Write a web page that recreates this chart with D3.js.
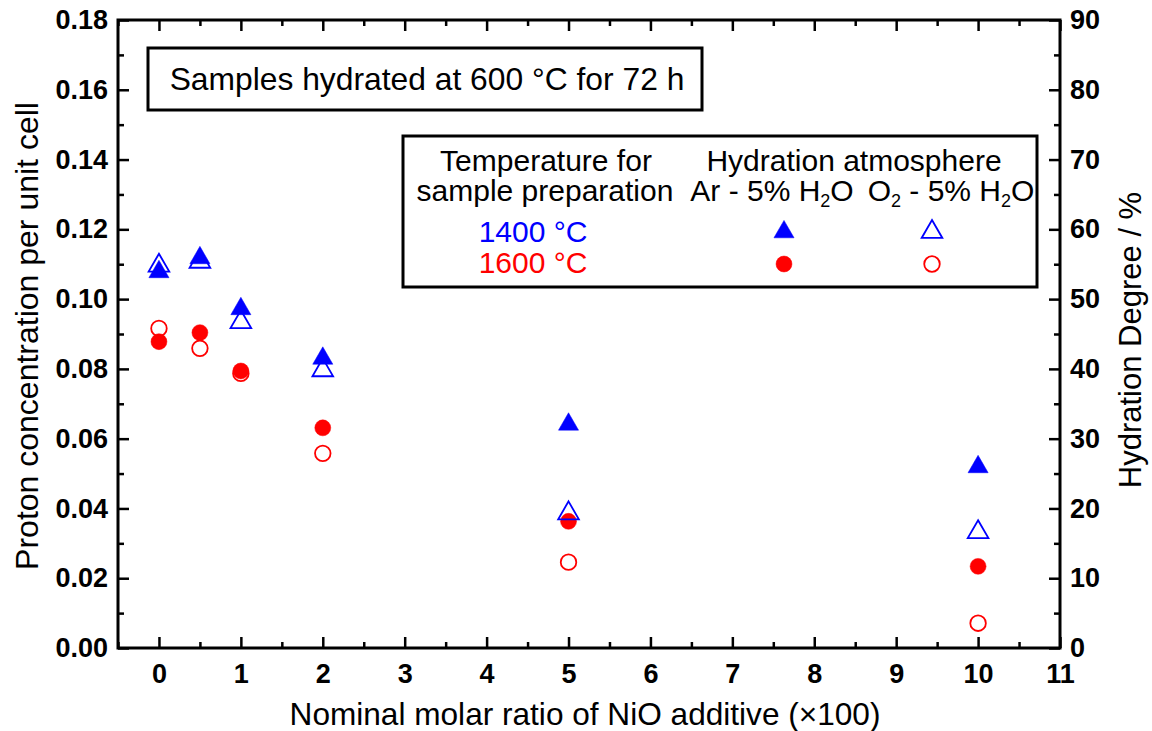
<!DOCTYPE html>
<html><head><meta charset="utf-8">
<script src="https://cdn.jsdelivr.net/npm/d3@7"></script>
<style>
body{margin:0;background:#fff;}
svg{display:block;font-family:"Liberation Sans",Arial,sans-serif;}
</style></head>
<body><svg id="c" width="1152" height="731"></svg>
<script>
// ---- data ----
const nioRatio = [0, 0.5, 1, 2, 5, 10];
const ar1400 = [0.1078, 0.1118, 0.0972, 0.0830, 0.0641, 0.0519];
const o21400 = [0.1096, 0.1107, 0.0934, 0.0796, 0.0386, 0.0332];
const ar1600 = [0.0878, 0.0904, 0.0794, 0.0631, 0.0363, 0.0234];
const o21600 = [0.0916, 0.0859, 0.0787, 0.0558, 0.0246, 0.0071];
const xTicks = [0,1,2,3,4,5,6,7,8,9,10,11];
const yTicks = [0,0.02,0.04,0.06,0.08,0.10,0.12,0.14,0.16,0.18];
const y2Ticks = [0,10,20,30,40,50,60,70,80,90];

const svg = d3.select("#c");
const L=118, R=1060, T=20, B=648;
const x = d3.scaleLinear().domain([-0.5, 11]).range([L, R]);
const y = d3.scaleLinear().domain([0, 0.18]).range([B, T]);
const y2 = d3.scaleLinear().domain([0, 90]).range([B, T]);

const blue="#0000ff", red="#ff0000";
const MAJ=11, MIN=6;

function styleAxis(g){
  g.select(".domain").remove();
  g.selectAll(".tick line").attr("stroke","#000").attr("stroke-width",2.5);
  g.selectAll(".tick text").attr("fill","#000").attr("font-weight","bold").attr("font-size",27);
}
const xMinor = d3.range(-0.5, 11.01, 0.5).filter(v=>Math.abs(v-Math.round(v))>1e-6);
const yMinor = d3.range(0.01, 0.18, 0.02);
const y2Minor = d3.range(5, 90, 10);
function minorStyle(g){g.select(".domain").remove();g.selectAll("line").attr("stroke","#000").attr("stroke-width",2.5);}

// bottom
const gb = svg.append("g").attr("transform",`translate(0,${B})`)
  .call(d3.axisBottom(x).tickValues(xTicks).tickSizeInner(-MAJ).tickSizeOuter(0).tickPadding(16).tickFormat(d3.format("d")));
styleAxis(gb);
gb.selectAll(".tick text").attr("dy","0.71em");
svg.append("g").attr("transform",`translate(0,${B})`)
  .call(d3.axisBottom(x).tickValues(xMinor).tickSize(-MIN).tickFormat("")).call(minorStyle);
// top
svg.append("g").attr("transform",`translate(0,${T})`)
  .call(d3.axisTop(x).tickValues(xTicks).tickSize(-MAJ).tickFormat("")).call(minorStyle);
svg.append("g").attr("transform",`translate(0,${T})`)
  .call(d3.axisTop(x).tickValues(xMinor).tickSize(-MIN).tickFormat("")).call(minorStyle);
// left
const gl = svg.append("g").attr("transform",`translate(${L},0)`)
  .call(d3.axisLeft(y).tickValues(yTicks).tickSizeInner(-MAJ).tickSizeOuter(0).tickPadding(10).tickFormat(d3.format(".2f")));
styleAxis(gl);
svg.append("g").attr("transform",`translate(${L},0)`)
  .call(d3.axisLeft(y).tickValues(yMinor).tickSize(-MIN).tickFormat("")).call(minorStyle);
// right
const gr = svg.append("g").attr("transform",`translate(${R},0)`)
  .call(d3.axisRight(y2).tickValues(y2Ticks).tickSizeInner(-MAJ).tickSizeOuter(0).tickPadding(10).tickFormat(d3.format("d")));
styleAxis(gr);
svg.append("g").attr("transform",`translate(${R},0)`)
  .call(d3.axisRight(y2).tickValues(y2Minor).tickSize(-MIN).tickFormat("")).call(minorStyle);

// frame
svg.append("rect").attr("x",L).attr("y",T).attr("width",R-L).attr("height",B-T)
  .attr("fill","none").attr("stroke","#000").attr("stroke-width",3);

// axis titles
svg.append("text").attr("x",(L+R)/2-4).attr("y",725).attr("text-anchor","middle")
  .attr("font-size",31.6).text("Nominal molar ratio of NiO additive (×100)");
svg.append("text").attr("transform",`translate(38,${(T+B)/2+2}) rotate(-90)`).attr("text-anchor","middle")
  .attr("font-size",32).text("Proton concentration per unit cell");
svg.append("text").attr("transform",`translate(1141,340) rotate(-90)`).attr("text-anchor","middle")
  .attr("font-size",31).text("Hydration Degree / %");

// markers
const tri = d3.symbol().type(d3.symbolTriangle).size(175);
const cir = d3.symbol().type(d3.symbolCircle).size(200);
const cirOpen = d3.symbol().type(d3.symbolCircle).size(190);
const triOpen = d3.symbol().type(d3.symbolTriangle).size(185);

function plot(vals, gen, filled, color){
  svg.append("g").selectAll("path").data(vals).join("path")
    .attr("transform",(d,i)=>`translate(${x(nioRatio[i])},${y(d)})`)
    .attr("d",gen())
    .attr("fill", filled?color:"none")
    .attr("stroke", color)
    .attr("stroke-width", filled?0.5:1.8);
}
plot(ar1600, cir, true, red);
plot(o21600, cirOpen, false, red);
plot(ar1400, tri, true, blue);
plot(o21400, triOpen, false, blue);

// annotation box
svg.append("rect").attr("x",148).attr("y",48).attr("width",554).attr("height",62)
  .attr("fill","#fff").attr("stroke","#000").attr("stroke-width",3);
svg.append("text").attr("x",427).attr("y",90).attr("text-anchor","middle")
  .attr("font-size",31.8).text("Samples hydrated at 600 °C for 72 h");

// legend box
const lg = svg.append("g");
lg.append("rect").attr("x",403).attr("y",136).attr("width",634).attr("height",151)
  .attr("fill","#fff").attr("stroke","#000").attr("stroke-width",3);
const lfs = 30;
lg.append("text").attr("x",546).attr("y",171).attr("text-anchor","middle").attr("font-size",lfs).text("Temperature for");
lg.append("text").attr("x",545).attr("y",201).attr("text-anchor","middle").attr("font-size",lfs).text("sample preparation");
lg.append("text").attr("x",854).attr("y",171).attr("text-anchor","middle").attr("font-size",lfs).text("Hydration atmosphere");
const t1 = lg.append("text").attr("x",772).attr("y",201).attr("text-anchor","middle").attr("font-size",lfs);
t1.append("tspan").text("Ar - 5% H");
t1.append("tspan").attr("font-size",18).attr("dy",6).text("2");
t1.append("tspan").attr("dy",-6).text("O");
const t2 = lg.append("text").attr("x",951).attr("y",201).attr("text-anchor","middle").attr("font-size",lfs);
t2.append("tspan").text("O");
t2.append("tspan").attr("font-size",18).attr("dy",6).text("2");
t2.append("tspan").attr("dy",-6).text(" - 5% H");
t2.append("tspan").attr("font-size",18).attr("dy",6).text("2");
t2.append("tspan").attr("dy",-6).text("O");
lg.append("text").attr("x",533).attr("y",242).attr("text-anchor","middle").attr("font-size",lfs).attr("fill",blue).text("1400 °C");
lg.append("text").attr("x",533).attr("y",273).attr("text-anchor","middle").attr("font-size",lfs).attr("fill",red).text("1600 °C");
lg.append("path").attr("transform","translate(784,232)").attr("d",tri()).attr("fill",blue).attr("stroke",blue).attr("stroke-width",0.5);
lg.append("path").attr("transform","translate(932,232)").attr("d",triOpen()).attr("fill","none").attr("stroke",blue).attr("stroke-width",1.8);
lg.append("path").attr("transform","translate(784,264)").attr("d",cir()).attr("fill",red).attr("stroke",red).attr("stroke-width",0.5);
lg.append("path").attr("transform","translate(932,264)").attr("d",cirOpen()).attr("fill","none").attr("stroke",red).attr("stroke-width",1.8);
</script></body></html>
